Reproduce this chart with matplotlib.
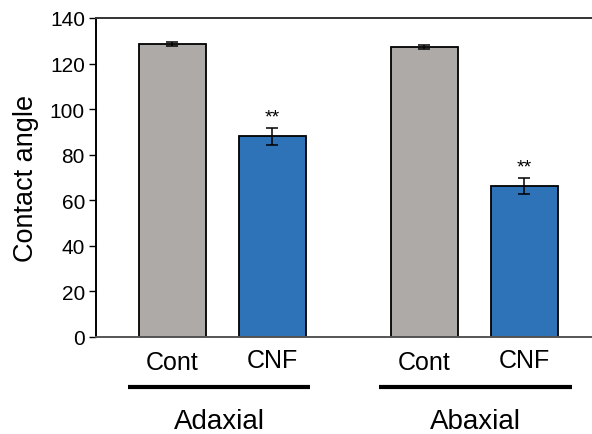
import numpy as np
import matplotlib.pyplot as plt

plt.rcParams['font.family'] = ['Liberation Sans', 'DejaVu Sans']

groups = ['Adaxial', 'Abaxial']
treatments = ['Cont', 'CNF']
means = [128.5, 88.0, 127.3, 66.2]
errors = [1.0, 3.6, 0.8, 3.4]
signif = ['', '**', '', '**']
colors = ['#ADAAA8', '#2E73B8', '#ADAAA8', '#2E73B8']

# bar positions (gap between the two groups)
pos = np.array([0.0, 1.0, 2.52, 3.52])

fig = plt.figure(figsize=(5.92, 4.35), dpi=100)
ax = fig.add_axes([96 / 592, 1 - 338 / 435, 1 - 96 / 592, 319 / 435])

ax.bar(pos, means, width=0.67, color=colors, edgecolor='black', linewidth=1.3, zorder=2)
ax.errorbar(pos, means, yerr=errors, fmt='none', ecolor='black', elinewidth=1.1,
            capsize=4, capthick=1.1, zorder=3)

for x, m, e, s in zip(pos, means, errors, signif):
    if s:
        ax.text(x, m + e + 5, s, ha='center', va='center', fontsize=14)

ax.set_xlim(-0.76, 4.2)
ax.set_ylim(0, 140)
ax.set_yticks(range(0, 141, 20))
ax.tick_params(axis='y', labelsize=15, length=5, width=1, direction='out', pad=3)
ax.set_xticks([])
ax.set_ylabel('Contact angle', fontsize=19.5, labelpad=8)

ax.spines['right'].set_visible(False)
ax.spines['top'].set_color('#333333')
ax.spines['bottom'].set_color('#555555')
ax.spines['left'].set_color('black')
for sp in ['top', 'bottom', 'left']:
    ax.spines[sp].set_linewidth(1.4)

tr = ax.get_xaxis_transform()
lab_y = [-0.078, -0.073, -0.078, -0.073]
for i, x in enumerate(pos):
    ax.text(x, lab_y[i], treatments[i % 2], transform=tr, ha='center', va='center',
            fontsize=18)

spans = [(-0.44, 1.38), (2.07, 4.0)]
for (x0, x1), g in zip(spans, groups):
    ax.plot([x0, x1], [-0.157, -0.157], transform=tr, color='black', lw=3,
            clip_on=False, solid_capstyle='butt')
    ax.text((x0 + x1) / 2, -0.264, g, transform=tr, ha='center', va='center',
            fontsize=20)

fig.savefig('out.png', dpi=100)
